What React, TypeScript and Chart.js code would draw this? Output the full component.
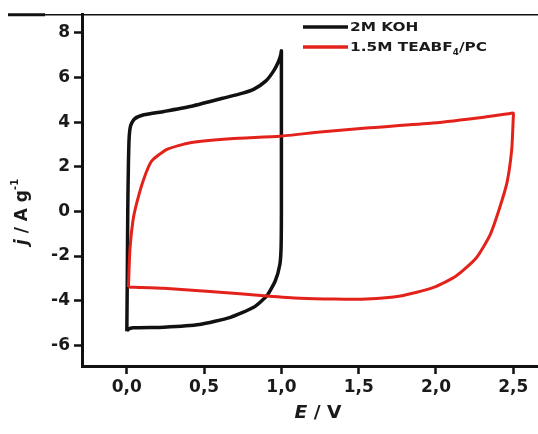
import React, { useEffect, useRef } from "react";
import { Chart, registerables } from "chart.js";

Chart.register(...registerables);

// 2M KOH cyclic voltammogram (E in V, j in A/g)
const kohE = [0.0, 0.003, 0.006, 0.01, 0.015, 0.025, 0.05, 0.11, 0.24, 0.41, 0.62, 0.75, 0.82, 0.9, 0.95, 0.98, 0.995, 1.0, 1.0, 1.0, 1.0, 0.998, 0.99, 0.96, 0.905, 0.82, 0.67, 0.47, 0.24, 0.04, 0.005, 0.0];
const kohJ = [-5.37, -3.0, 0.0, 2.0, 3.3, 3.85, 4.15, 4.33, 4.48, 4.7, 5.07, 5.3, 5.47, 5.85, 6.3, 6.7, 7.0, 7.2, 6.9, 4.0, 0.0, -1.6, -2.38, -3.12, -3.79, -4.3, -4.75, -5.07, -5.19, -5.22, -5.3, -5.37];

// 1.5M TEABF4/PC cyclic voltammogram
const teaE = [0.01, 0.012, 0.02, 0.04, 0.065, 0.107, 0.16, 0.26, 0.41, 0.67, 0.99, 1.25, 1.55, 1.98, 2.31, 2.47, 2.5, 2.5, 2.49, 2.46, 2.41, 2.35, 2.26, 2.13, 1.98, 1.77, 1.55, 1.34, 1.12, 0.905, 0.56, 0.24, 0.05, 0.01];
const teaJ = [-3.39, -3.1, -1.7, -0.4, 0.4, 1.4, 2.25, 2.78, 3.08, 3.26, 3.37, 3.56, 3.74, 3.96, 4.22, 4.38, 4.41, 4.2, 2.78, 1.31, 0.12, -1.05, -2.09, -2.9, -3.42, -3.79, -3.93, -3.93, -3.89, -3.79, -3.6, -3.45, -3.4, -3.39];

const xTicks = [0, 0.5, 1.0, 1.5, 2.0, 2.5];
const yTicks = [-6, -4, -2, 0, 2, 4, 6, 8];

const seriesNames = ["2M KOH", "1.5M TEABF", "4", "/PC"];

const FONT = "'DejaVu Sans', 'Liberation Sans', sans-serif";

const decorPlugin = {
  id: "decor",
  afterDraw(chart: any) {
    const ctx = chart.ctx as CanvasRenderingContext2D;
    const area = chart.chartArea;
    ctx.save();
    // top rule
    ctx.strokeStyle = "#111";
    ctx.lineWidth = 1.5;
    ctx.beginPath();
    ctx.moveTo(8, area.top + 0.5);
    ctx.lineTo(538, area.top + 0.5);
    ctx.stroke();
    ctx.lineWidth = 3;
    ctx.beginPath();
    ctx.moveTo(8, area.top + 0.5);
    ctx.lineTo(45, area.top + 0.5);
    ctx.stroke();

    const stretchText = (txt: string, x: number, y: number, font: string, sx: number, align: CanvasTextAlign = "left") => {
      ctx.save();
      ctx.translate(x, y);
      ctx.scale(sx, 1);
      ctx.font = font;
      ctx.textAlign = align;
      ctx.fillText(txt, 0, 0);
      const w = ctx.measureText(txt).width * sx;
      ctx.restore();
      return w;
    };

    // legend
    ctx.textBaseline = "middle";
    ctx.fillStyle = "#1a1a1a";
    const ly1 = 27, ly2 = 47;
    ctx.lineWidth = 3.5;
    ctx.strokeStyle = "#111";
    ctx.beginPath(); ctx.moveTo(303, ly1); ctx.lineTo(348, ly1); ctx.stroke();
    ctx.strokeStyle = "#e3231b";
    ctx.beginPath(); ctx.moveTo(303, ly2); ctx.lineTo(348, ly2); ctx.stroke();
    const lf = `bold 13px ${FONT}`;
    stretchText(seriesNames[0], 350, ly1 + 1, lf, 1.18);
    let w = stretchText(seriesNames[1], 350, ly2 + 1, lf, 1.18);
    let w2 = stretchText(seriesNames[2], 350 + w, ly2 + 6, `bold 8px ${FONT}`, 1.1);
    stretchText(seriesNames[3], 350 + w + w2, ly2 + 1, lf, 1.18);

    // x title
    ctx.textBaseline = "middle";
    const tf = `bold 17px ${FONT}`;
    const itf = `italic bold 17px ${FONT}`;
    ctx.font = itf;
    const wE = ctx.measureText("E").width;
    ctx.font = tf;
    const wR = ctx.measureText(" / V").width;
    const total = (wE + wR) * 1.1;
    const cx = 318;
    let sx = cx - total / 2;
    stretchText("E", sx, 414, itf, 1.1);
    stretchText(" / V", sx + wE * 1.1, 414, tf, 1.1);

    // y title (rotated)
    ctx.save();
    ctx.translate(23, 212);
    ctx.rotate(-Math.PI / 2);
    ctx.font = itf;
    const wj = ctx.measureText("j").width;
    ctx.font = tf;
    const wA = ctx.measureText(" / A g").width;
    ctx.font = `bold 10px ${FONT}`;
    const wS = ctx.measureText("-1").width;
    const tot = wj + wA + wS;
    let px = -tot / 2;
    ctx.textBaseline = "middle";
    ctx.textAlign = "left";
    ctx.font = itf; ctx.fillText("j", px, 0); px += wj;
    ctx.font = tf; ctx.fillText(" / A g", px, 0); px += wA;
    ctx.font = `bold 10px ${FONT}`; ctx.fillText("-1", px, -8);
    ctx.restore();

    ctx.restore();
  },
};

export default function App() {
  const ref = useRef<HTMLCanvasElement | null>(null);
  useEffect(() => {
    if (!ref.current) return;
    const kohPts = kohE.map((x, i) => ({ x, y: kohJ[i] }));
    const teaPts = teaE.map((x, i) => ({ x, y: teaJ[i] }));
    const chart = new Chart(ref.current, {
      type: "scatter",
      data: {
        datasets: [
          {
            label: "1.5M TEABF4/PC",
            data: teaPts,
            showLine: true,
            borderColor: "#e3231b",
            borderWidth: 3,
            pointRadius: 0,
            tension: 0.2,
            fill: false,
          },
          {
            label: "2M KOH",
            data: kohPts,
            showLine: true,
            borderColor: "#111111",
            borderWidth: 3.5,
            pointRadius: 0,
            tension: 0.2,
            fill: false,
          },
        ],
      },
      options: {
        animation: false,
        responsive: false,
        layout: { padding: { left: 0, right: 0, top: 10, bottom: 0 } },
        plugins: { legend: { display: false }, tooltip: { enabled: false }, title: { display: false } },
        scales: {
          x: {
            type: "linear",
            min: -0.29,
            max: 2.66,
            afterBuildTicks: (s: any) => { s.ticks = xTicks.map((v) => ({ value: v })); },
            afterFit: (s: any) => { s.height = 68; },
            border: { display: true, color: "#111", width: 3 },
            grid: { drawOnChartArea: false, drawTicks: true, tickLength: 8, tickWidth: 2.5, tickColor: "#111", color: "#111" },
            ticks: {
              padding: 3,
              color: "#1a1a1a",
              font: { family: FONT, weight: "bold", size: 17 },
              callback: (v: any) => Number(v).toFixed(1).replace(".", ","),
            },
          },
          y: {
            type: "linear",
            min: -6.93,
            max: 8.84,
            afterBuildTicks: (s: any) => { s.ticks = yTicks.map((v) => ({ value: v })); },
            afterFit: (s: any) => { s.width = 82; },
            border: { display: true, color: "#111", width: 3 },
            grid: { drawOnChartArea: false, drawTicks: true, tickLength: 8, tickWidth: 2.5, tickColor: "#111", color: "#111" },
            ticks: {
              padding: 4,
              color: "#1a1a1a",
              font: { family: FONT, weight: "bold", size: 17 },
              callback: (v: any) => String(v),
            },
          },
        },
      },
      plugins: [decorPlugin],
    });
    return () => chart.destroy();
  }, []);
  return (
    <div style={{ position: "absolute", left: 0, top: 0, width: 538, height: 434, background: "#fff" }}>
      <canvas ref={ref} width={538} height={434} />
    </div>
  );
}
